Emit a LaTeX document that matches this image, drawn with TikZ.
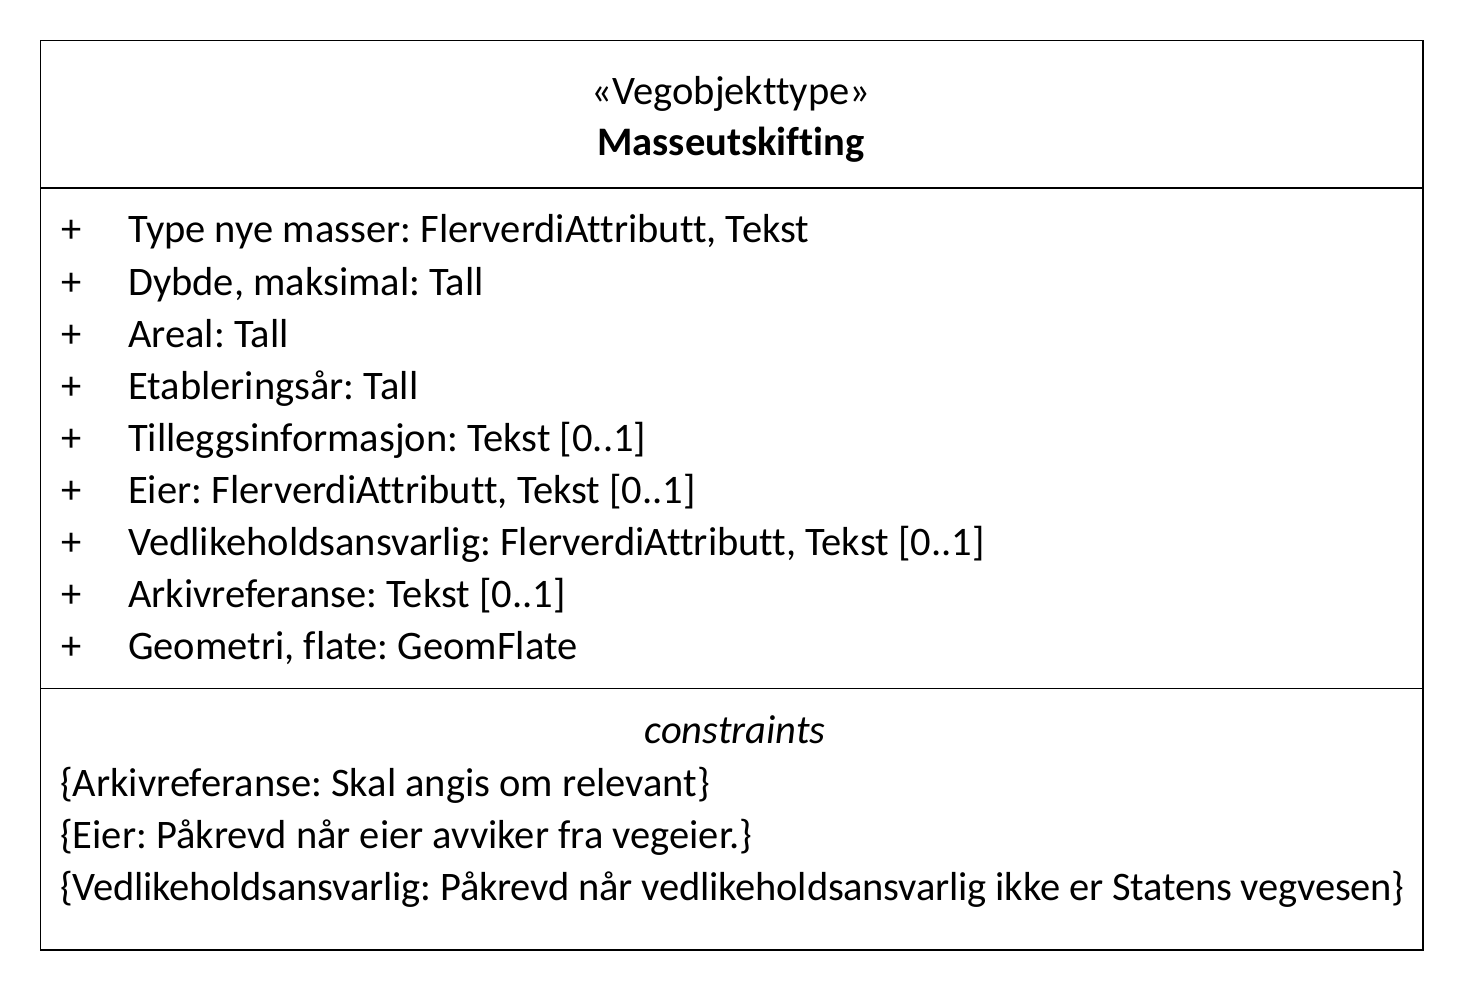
\documentclass[tikz,border=0pt]{standalone}
\usepackage{fontspec}
\setmainfont{Carlito}[Ligatures=CommonOff]
\frenchspacing
\begin{document}
\begin{tikzpicture}[x=1pt,y=-1pt,
  txt/.style={inner sep=0pt,font=\fontsize{40.5}{48}\selectfont},
  attr/.style={txt,anchor=base west},
  frame/.style={draw=black,line width=1.2pt}]
\useasboundingbox (0,0) rectangle (1464,992);
% class frame and compartment separators
\draw[frame] (40.5,40.5) rectangle (1423,950);
\draw[frame] (40.5,188) -- (1423,188);
\draw[frame] (40.5,688.5) -- (1423,688.5);
% header
\node[txt,anchor=base] (stereo) at (731,105) {«Vegobjekttype»};
\node[txt,anchor=base,font=\fontsize{40.5}{48}\selectfont\bfseries] (name) at (731,156) {Masseutskifting};
% attributes
\foreach \i/\t in {0/{Type nye masser: FlerverdiAttributt, Tekst},
                   1/{Dybde, maksimal: Tall},
                   2/{Areal: Tall},
                   3/{Etableringsår: Tall},
                   4/{Tilleggsinformasjon: Tekst [0..1]},
                   5/{Eier: FlerverdiAttributt, Tekst [0..1]},
                   6/{Vedlikeholdsansvarlig: FlerverdiAttributt, Tekst [0..1]},
                   7/{Arkivreferanse: Tekst [0..1]},
                   8/{Geometri, flate: GeomFlate}} {
  \node[attr] (vis\i) at (61,{243+52*\i}) {+};
  \node[attr] (attr\i) at (128,{243+52*\i}) {\t};
}
% constraints
\node[txt,anchor=base,font=\fontsize{40.5}{48}\selectfont\itshape] (ctitle) at (735,743) {constraints};
\node[attr] (c1) at (60,796) {\{Arkivreferanse: Skal angis om relevant\}};
\node[attr] (c2) at (60,848) {\{Eier: Påkrevd når eier avviker fra vegeier.\}};
\node[attr] (c3) at (60,900) {\addfontfeature{LetterSpace=-0.5}\{Vedlikeholdsansvarlig: Påkrevd når vedlikeholdsansvarlig ikke er Statens vegvesen\}};
\end{tikzpicture}
\end{document}
